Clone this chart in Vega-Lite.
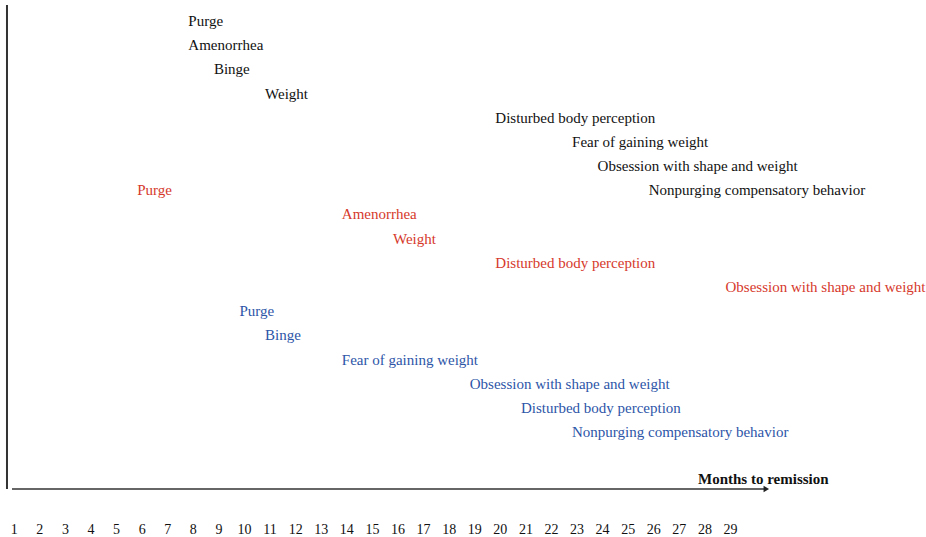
{
  "$schema": "https://vega.github.io/schema/vega-lite/v6.json",
  "width": 926,
  "height": 537,
  "autosize": {"type": "none"},
  "padding": 0,
  "background": "white",
  "config": {"view": {"stroke": null}},
  "datasets": {
    "labels": [
      {"label": "Purge", "month": 8, "row": 1, "group": "A"},
      {"label": "Amenorrhea", "month": 8, "row": 2, "group": "A"},
      {"label": "Binge", "month": 9, "row": 3, "group": "A"},
      {"label": "Weight", "month": 11, "row": 4, "group": "A"},
      {"label": "Disturbed body perception", "month": 20, "row": 5, "group": "A"},
      {"label": "Fear of gaining weight", "month": 23, "row": 6, "group": "A"},
      {"label": "Obsession with shape and weight", "month": 24, "row": 7, "group": "A"},
      {"label": "Nonpurging compensatory behavior", "month": 26, "row": 8, "group": "A"},
      {"label": "Purge", "month": 6, "row": 8, "group": "B"},
      {"label": "Amenorrhea", "month": 14, "row": 9, "group": "B"},
      {"label": "Weight", "month": 16, "row": 10, "group": "B"},
      {"label": "Disturbed body perception", "month": 20, "row": 11, "group": "B"},
      {"label": "Obsession with shape and weight", "month": 29, "row": 12, "group": "B"},
      {"label": "Purge", "month": 10, "row": 13, "group": "C"},
      {"label": "Binge", "month": 11, "row": 14, "group": "C"},
      {"label": "Fear of gaining weight", "month": 14, "row": 15, "group": "C"},
      {"label": "Obsession with shape and weight", "month": 19, "row": 16, "group": "C"},
      {"label": "Disturbed body perception", "month": 21, "row": 17, "group": "C"},
      {"label": "Nonpurging compensatory behavior", "month": 23, "row": 18, "group": "C"}
    ],
    "months": [
      {"m": 1}, {"m": 2}, {"m": 3}, {"m": 4}, {"m": 5}, {"m": 6}, {"m": 7}, {"m": 8}, {"m": 9}, {"m": 10},
      {"m": 11}, {"m": 12}, {"m": 13}, {"m": 14}, {"m": 15}, {"m": 16}, {"m": 17}, {"m": 18}, {"m": 19}, {"m": 20},
      {"m": 21}, {"m": 22}, {"m": 23}, {"m": 24}, {"m": 25}, {"m": 26}, {"m": 27}, {"m": 28}, {"m": 29}
    ]
  },
  "layer": [
    {
      "data": {"values": [{"x": 0.715, "y": 0.34, "y2": 20.355}]},
      "mark": {"type": "rule", "color": "#333333", "strokeWidth": 2},
      "encoding": {
        "x": {"field": "x", "type": "quantitative", "scale": {"domain": [0.4418, 36.642], "nice": false, "zero": false}, "axis": null},
        "y": {"field": "y", "type": "quantitative", "scale": {"domain": [0.1315, 22.34], "reverse": true, "nice": false, "zero": false}, "axis": null},
        "y2": {"field": "y2"}
      }
    },
    {
      "data": {"values": [{"x": 0.911, "x2": 30.4, "y": 20.355}]},
      "mark": {"type": "rule", "color": "#333333", "strokeWidth": 1.5},
      "encoding": {
        "x": {"field": "x", "type": "quantitative"},
        "x2": {"field": "x2"},
        "y": {"field": "y", "type": "quantitative"}
      }
    },
    {
      "data": {"values": [{"x": 30.4, "y": 20.355}]},
      "mark": {"type": "point", "shape": "triangle-right", "filled": true, "color": "#222222", "size": 40, "opacity": 1},
      "encoding": {
        "x": {"field": "x", "type": "quantitative"},
        "y": {"field": "y", "type": "quantitative"}
      }
    },
    {
      "data": {"values": [{"text": "Months to remission", "x": 27.73, "y": 19.94}]},
      "mark": {"type": "text", "align": "left", "baseline": "middle", "font": "Liberation Serif", "fontSize": 15, "fontWeight": "bold", "color": "#111111"},
      "encoding": {
        "x": {"field": "x", "type": "quantitative"},
        "y": {"field": "y", "type": "quantitative"},
        "text": {"field": "text"}
      }
    },
    {
      "data": {"name": "months"},
      "mark": {"type": "text", "align": "center", "baseline": "middle", "font": "Liberation Serif", "fontSize": 14, "color": "#111111"},
      "encoding": {
        "x": {"field": "m", "type": "quantitative"},
        "y": {"datum": 22.05, "type": "quantitative"},
        "text": {"field": "m", "type": "quantitative"}
      }
    },
    {
      "data": {"name": "labels"},
      "mark": {"type": "text", "align": "left", "baseline": "middle", "dx": -5, "font": "Liberation Serif", "fontSize": 15},
      "encoding": {
        "x": {"field": "month", "type": "quantitative"},
        "y": {"field": "row", "type": "quantitative"},
        "text": {"field": "label"},
        "color": {"field": "group", "type": "nominal", "scale": {"domain": ["A", "B", "C"], "range": ["#111111", "#d6392c", "#2d55a8"]}, "legend": null}
      }
    }
  ]
}
